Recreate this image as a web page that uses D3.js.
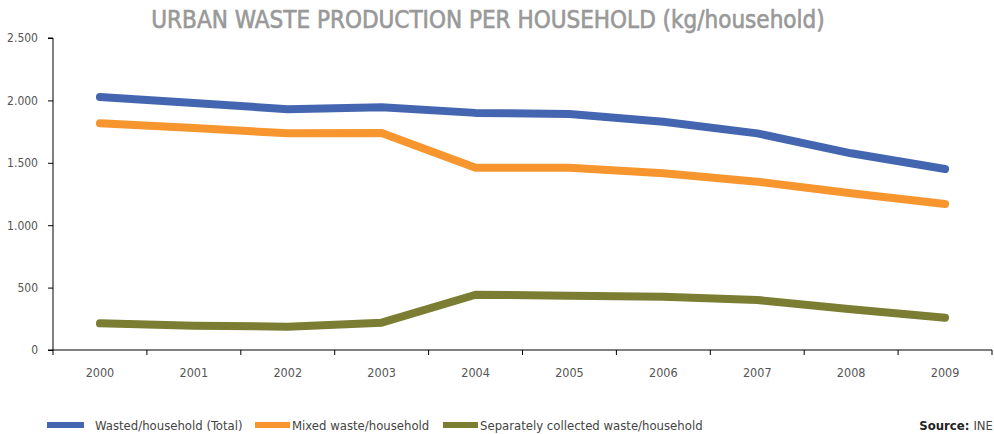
<!DOCTYPE html>
<html>
<head>
<meta charset="utf-8">
<script src="https://cdn.jsdelivr.net/npm/d3@7"></script>
<style>
  body { margin: 0; background: #fff; }
  text { font-family: "DejaVu Sans Condensed", "DejaVu Sans", sans-serif; }
</style>
</head>
<body>
<div id="chart"></div>
<script>
const years = ['2000', '2001', '2002', '2003', '2004', '2005', '2006', '2007', '2008', '2009'];
const totalPerHousehold = [2027, 1980, 1929, 1945, 1900, 1891, 1829, 1736, 1576, 1450];
const mixedPerHousehold = [1816, 1779, 1736, 1738, 1461, 1461, 1416, 1349, 1256, 1170];
const separatePerHousehold = [214, 195, 187, 219, 443, 435, 427, 401, 326, 259];
const yTicks = [0, 500, 1000, 1500, 2000, 2500];

const seriesNames = ['Wasted/household (Total)', 'Mixed waste/household', 'Separately collected waste/household'];
const seriesColors = ['#4466b0', '#f7962e', '#7a7d32'];

const width = 994, height = 434;
const margin = {top: 38, right: 2, bottom: 84, left: 53};

const svg = d3.select('#chart').append('svg')
  .attr('width', width)
  .attr('height', height);

// title
svg.append('text')
  .attr('x', 488)
  .attr('y', 28)
  .attr('text-anchor', 'middle')
  .attr('fill', '#999')
  .attr('stroke', '#999')
  .attr('stroke-width', 0.6)
  .style('font-size', '24px')
  .text('URBAN WASTE PRODUCTION PER HOUSEHOLD (kg/household)');

const x = d3.scaleBand()
  .domain(years)
  .range([margin.left, width - margin.right]);

const y = d3.scaleLinear()
  .domain([0, 2500])
  .range([height - margin.bottom, margin.top]);

// x axis: ticks on band edges, labels centred
const xAxis = svg.append('g')
  .attr('transform', 'translate(0,' + y(0) + ')');
xAxis.append('line')
  .attr('x1', margin.left).attr('x2', width - margin.right)
  .attr('stroke', '#000');
xAxis.selectAll('.edge')
  .data(years.concat(['end']))
  .join('line')
  .attr('x1', (d, i) => margin.left + i * x.step())
  .attr('x2', (d, i) => margin.left + i * x.step())
  .attr('y1', 0).attr('y2', 5)
  .attr('stroke', '#000');
xAxis.selectAll('.lbl')
  .data(years)
  .join('text')
  .attr('x', d => x(d) + x.bandwidth() / 2)
  .attr('y', 27)
  .attr('text-anchor', 'middle')
  .attr('fill', '#555')
  .style('font-size', '12.5px')
  .text(d => d);

// y axis
const yAxis = svg.append('g')
  .attr('transform', 'translate(' + margin.left + ',0)')
  .call(d3.axisLeft(y)
    .tickValues(yTicks)
    .tickSize(5)
    .tickPadding(10)
    .tickFormat(d => d3.format(',')(d).replace(',', '.')));
yAxis.select('.domain').attr('d', 'M-5,' + y(2500) + 'H0V' + y(0) + 'H-5');
yAxis.selectAll('text')
  .attr('fill', '#555')
  .style('font-size', '12px')
  .style('font-family', '"DejaVu Sans Condensed", sans-serif');

// lines
const allSeries = [totalPerHousehold, mixedPerHousehold, separatePerHousehold];
const line = d3.line()
  .x((d, i) => x(years[i]) + x.bandwidth() / 2)
  .y(d => y(d));

svg.append('g')
  .selectAll('path')
  .data(allSeries)
  .join('path')
  .attr('d', line)
  .attr('fill', 'none')
  .attr('stroke', (d, i) => seriesColors[i])
  .attr('stroke-width', 8)
  .attr('stroke-linecap', 'round')
  .attr('stroke-linejoin', 'round');

// legend
const legendX = [47, 255, 443];
const legendW = [37, 35, 35];
const legendGap = [11, 2, 2];
const legend = svg.append('g').attr('transform', 'translate(0,425)');
seriesNames.forEach((name, i) => {
  legend.append('rect')
    .attr('x', legendX[i]).attr('y', -3)
    .attr('width', legendW[i]).attr('height', 6)
    .attr('fill', seriesColors[i]);
  legend.append('text')
    .attr('x', legendX[i] + legendW[i] + legendGap[i])
    .attr('y', 5)
    .attr('fill', '#444')
    .style('font-size', '13px')
    .text(name);
});

// source
svg.append('text')
  .attr('x', 993)
  .attr('y', 430)
  .attr('text-anchor', 'end')
  .attr('fill', '#222')
  .style('font-size', '13px')
  .call(t => {
    t.append('tspan').style('font-weight', 'bold').text('Source: ');
    t.append('tspan').attr('fill', '#444').text('INE');
  });
</script>
</body>
</html>
